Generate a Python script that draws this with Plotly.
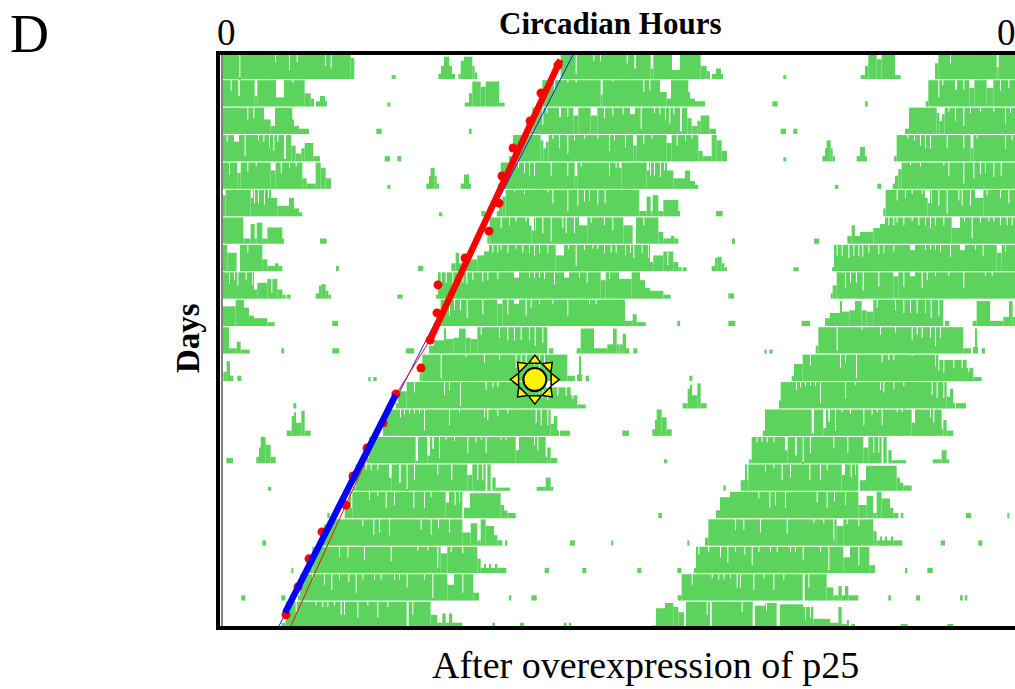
import numpy as np
import plotly.graph_objects as go

# Activity per day: bouts are (start bin, end bin, height); gaps are (bin, depth) or (bin, width, depth).
# One day spans bins 27..1215.
D00_BOUTS = [(27,410,1),(410,421,.8),(533,545,.15),(673,681,.2),(681,690,.5),(690,705,.85),(705,714,.5),(714,723,.2),(733,740,.2),(740,750,.7),(750,775,.85),(775,782,.5),(782,790,.25),(1040,1215,1)]
D00_GAPS = [(76,.95),(158,.1),(183,.35),(225,.65),(248,.35),(333,.5),(350,.6),(373,.1),(393,.1),(1085,.8),(1138,.3),(1158,.3),(1188,.05)]
D01_BOUTS = [(27,186,1),(186,210,.35),(210,272,1),(272,290,.5),(290,300,.3),(306,318,.2),(318,333,.4),(333,338,.2),(520,529,.15),(752,765,.15),(765,775,.5),(775,800,.95),(800,815,.75),(815,855,.95),(855,872,.15),(975,985,.6),(985,1215,1)]
D01_GAPS = [(50,.4),(73,5,.6),(122,8,.6),(235,.1),(1020,.4),(1060,.1),(1085,.1),(1160,6,.55),(1195,.05)]
D02_BOUTS = [(27,150,1),(150,170,.55),(170,183,.3),(183,235,1),(235,240,.55),(240,255,.3),(255,285,.2),(487,503,.2),(765,773,.2),(947,955,.2),(955,1215,1)]
D02_GAPS = [(100,.45),(118,.4),(985,.65),(997,.2),(1035,6,.35),(1060,.35),(1078,15,.3),(1130,20,.3),(1170,.4),(1195,.3)]
D03_BOUTS = [(27,232,1),(232,245,.6),(245,262,.3),(262,272,.5),(272,298,.7),(298,318,.2),(512,528,.2),(550,562,.2),(885,897,.2),(897,1215,1)]
D03_GAPS = [(38,.25),(60,15,.25),(92,.8),(132,.2),(148,.25),(165,.45),(178,.6),(190,.25),(210,6,.9),(980,8,.2),(988,8,.5),(996,8,.25),(1015,.15),(1035,.5),(1060,.7),(1080,.2),(1110,.15),(1150,.15),(1185,.6),(1200,.2)]
D04_BOUTS = [(27,265,1),(265,278,.4),(278,305,.2),(305,320,1),(320,335,.8),(335,351,.4),(520,529,.15),(637,645,.2),(645,650,.5),(650,662,.8),(662,668,.5),(668,675,.2),(740,750,.2),(750,765,.55),(765,770,.2),(852,860,.2),(860,1215,1)]
D04_GAPS = [(45,.45),(70,10,.4),(100,.35),(125,.15),(170,15,.3),(200,.4),(225,.2),(245,.15),(892,.15),(912,.2),(930,.4),(945,.5),(960,.5),(1010,.5),(1060,.5),(1082,8,.5),(1100,.15),(1185,.5),(1205,.2)]
D05_BOUTS = [(27,35,.8),(35,110,1),(110,118,.7),(118,170,1),(170,190,.7),(190,225,.4),(225,240,.7),(240,255,.3),(255,265,.15),(675,685,.15),(802,814,.2),(848,855,.2),(855,865,.5),(865,875,.75),(875,1215,1)]
D05_GAPS = [(120,.5),(132,.5),(150,.55),(162,.3),(900,.1),(930,.15),(1000,.1),(1015,.5),(1060,.8),(1090,.6),(1110,.45),(1125,.4),(1150,.55),(1172,.5)]
D06_BOUTS = [(27,88,1),(88,110,.2),(110,122,.75),(122,128,.2),(128,145,.8),(145,160,.2),(160,205,.62),(205,210,.2),(318,338,.2),(820,827,.3),(827,1215,1)]
D06_GAPS = [(860,.4),(885,.3),(905,.15),(935,.15),(945,8,.3),(953,7,.5),(962,.5),(985,.6),(1010,.9),(1045,.4),(1055,.6),(1080,.6),(1095,25,.3),(1130,.2),(1170,.3),(1195,.5)]
D07_BOUTS = [(27,40,1),(40,68,.7),(78,145,1),(145,160,.45),(160,183,.2),(183,193,.3),(193,205,.2),(366,375,.2),(612,628,.2),(712,725,.3),(725,735,.7),(735,750,.3),(750,790,.45),(790,810,.6),(810,825,.75),(825,1215,1)]
D07_GAPS = [(100,.3),(835,.3),(850,.3),(860,.2),(880,.3),(905,.15),(925,.3),(945,.3),(960,.4),(975,.3),(1000,.3),(1025,25,.4),(1062,.15),(1085,.8),(1110,.2),(1135,.15),(1150,.15),(1170,.3),(1190,.3),(1205,.3)]
D08_BOUTS = [(27,120,1),(120,130,.35),(130,160,.6),(160,190,.75),(190,205,.35),(205,215,.15),(218,230,.15),(305,315,.2),(315,322,.5),(322,335,.55),(335,343,.3),(343,351,.15),(550,566,.15),(667,672,.15),(672,1215,1)]
D08_GAPS = [(45,.4),(60,.3),(70,.5),(95,.3),(115,.5),(172,.7),(680,.4),(695,.4),(715,.5),(730,.4),(745,.4),(757,.45),(775,.3),(805,.35),(820,.3),(850,.25),(900,15,.2),(945,.2),(960,.2),(975,.2),(990,.25),(1020,.45),(1050,15,.2),(1095,.2),(1118,.4),(1160,15,.3),(1185,.25)]
D09_BOUTS = [(27,65,.75),(65,90,1),(90,105,.7),(105,120,.4),(120,160,.3),(160,182,.15),(355,372,.2),(662,668,.2),(668,680,.5),(680,1215,1)]
D09_GAPS = [(705,.6),(720,.4),(738,.4),(758,.7),(805,.55),(850,15,.15),(880,.55),(900,15,.15),(935,.6),(950,.3),(975,.15),(1015,.15),(1060,.6),(1125,.15),(1145,.15)]
D10_BOUTS = [(27,45,1),(45,68,.2),(68,80,.45),(80,107,.15),(202,210,.2),(355,376,.2),(575,600,.2),(645,660,.3),(660,690,.5),(690,695,.95),(695,718,.55),(718,735,.6),(735,755,.95),(755,770,.6),(770,790,.55),(790,1000,1),(1005,1018,.2),(1088,1100,.2),(1100,1140,.95),(1140,1150,.2),(1150,1180,.2),(1180,1197,.35),(1197,1208,.95),(1208,1215,.35)]
D10_GAPS = [(800,.3),(855,.4),(880,.5),(900,.5),(920,.5),(945,.5),(962,.7),(985,.6)]
D11_BOUTS = [(28,38,.35),(38,48,.75),(48,58,.2),(70,82,.2),(463,470,.15),(478,488,.15),(617,625,.3),(625,1060,1),(1060,1083,.2),(1090,1095,.25),(1095,1100,.95),(1100,1103,.25),(1115,1125,.2)]
D11_GAPS = [(680,.9),(755,.1),(810,.3),(855,.2),(905,.5),(920,.3),(935,.4),(960,.4),(975,.7),(990,.4)]
D12_BOUTS = [(238,247,.2),(545,552,.2),(552,578,.65),(578,985,1),(985,1070,.8),(1070,1090,.5),(1090,1115,.15)]
D12_GAPS = [(600,.4),(690,.5),(705,.3),(738,.9),(815,.3),(835,.2),(850,.2),(905,.05),(975,.45),(985,.5),(1000,.6),(1030,.4),(1055,.4),(1075,.3)]
D13_BOUTS = [(218,233,.2),(233,240,.75),(240,246,.9),(246,262,.5),(262,272,.95),(272,290,.2),(508,512,.3),(512,1010,1),(1010,1020,.45),(1020,1030,.75),(1030,1033,.2),(1038,1068,.2)]
D13_GAPS = [(558,.3),(570,.2),(585,.15),(600,.15),(615,.15),(630,.8),(705,.6),(735,.1),(810,.3),(820,.4),(850,.25),(880,.15),(965,.5),(980,.6),(1000,.6)]
D14_BOUTS = [(37,57,.2),(127,135,.25),(135,140,.6),(140,155,1),(155,170,.7),(170,185,.25),(458,465,.2),(465,995,1),(995,1000,.25),(1000,1010,.6),(1010,1030,.2)]
D14_GAPS = [(605,7,.9),(640,10,.7),(655,5,.45),(675,.8),(695,.1),(720,.15),(760,.6),(785,.2),(800,.1),(815,.6),(860,.1),(875,.1),(905,10,.5),(960,.3),(970,.5)]
D15_BOUTS = [(162,172,.15),(417,425,.15),(425,815,1),(820,830,1),(835,845,.5),(845,888,.12),(968,995,.15),(995,1010,.5),(1010,1018,.15)]
D15_GAPS = [(440,.2),(455,.2),(470,.2),(490,.2),(525,8,.5),(555,5,.7),(578,.95),(600,.6),(670,.4),(712,.6),(760,15,.4),(790,.6),(805,.6)]
D16_BOUTS = [(340,347,.2),(392,405,.4),(405,745,1),(750,768,.4),(768,860,.95),(860,870,.5),(870,880,.3),(880,905,.2)]
D16_GAPS = [(410,5,.6),(465,.3),(490,.15),(515,.6),(540,.5),(598,.6),(630,.6),(650,.2),(695,10,.4),(722,.5),(735,.4)]
D17_BOUTS = [(145,156,.2),(318,330,.3),(330,360,.8),(360,745,1),(745,770,.5),(770,790,.85),(790,800,.2),(800,815,1),(815,840,.75),(840,850,.4),(850,865,.2),(873,880,.2),(1068,1083,.2),(1192,1198,.2)]
D17_GAPS = [(445,.25),(478,.6),(495,.5),(525,.6),(620,.4),(650,.6),(672,.35),(705,.5)]
D18_BOUTS = [(5,10,.2),(232,238,.2),(285,295,.3),(295,790,1),(790,800,.55),(800,877,.2),(810,815,.35),(825,830,.35),(845,850,.35),(992,1005,.2),(1105,1117,.2)]
D18_GAPS = [(375,.4),(400,.4),(450,.5),(530,.55),(610,.15),(640,.15),(670,.8),(680,20,.25),(710,.2),(745,.25)]
D19_BOUTS = [(82,94,.2),(202,214,.2),(252,260,.2),(260,778,1),(778,795,.3),(885,892,.2),(952,968,.2)]
D19_GAPS = [(265,.3),(295,.2),(330,.4),(352,.6),(375,.2),(403,.3),(425,.7),(445,.2),(480,.2),(500,.2),(540,.2),(555,.2),(578,.5),(630,.2),(655,.9),(700,20,.4),(745,.7)]
D20_BOUTS = [(203,215,.2),(215,578,1),(584,650,1),(650,670,.5),(670,685,.2),(685,695,.55),(695,705,.2),(705,715,.55),(715,745,.2),(835,843,.2),(918,930,.2),(1050,1058,.2),(1065,1072,.2)]
D20_GAPS = [(245,.4),(305,.15),(325,.2),(340,.2),(360,.15),(380,.5),(390,.5),(430,.6),(460,.15),(490,.6),(520,.2),(595,.5)]
D21_BOUTS = [(128,138,.1),(138,165,.75),(165,190,.95),(190,205,.8),(205,222,.6),(228,300,1),(305,428,1),(435,465,.85),(465,500,.95),(510,580,.9),(580,610,.8),(610,660,.35),(660,685,.2),(685,695,.8),(695,710,.15),(710,717,.3),(723,735,.15),(872,893,.15),(1012,1030,.15)]
D21_GAPS = [(290,.5),(395,.4),(468,.3),(585,.6),(600,.5)]

DAY_BOUTS = [D00_BOUTS,D01_BOUTS,D02_BOUTS,D03_BOUTS,D04_BOUTS,D05_BOUTS,D06_BOUTS,D07_BOUTS,D08_BOUTS,D09_BOUTS,D10_BOUTS,D11_BOUTS,D12_BOUTS,D13_BOUTS,D14_BOUTS,D15_BOUTS,D16_BOUTS,D17_BOUTS,D18_BOUTS,D19_BOUTS,D20_BOUTS,D21_BOUTS]
DAY_GAPS = [D00_GAPS,D01_GAPS,D02_GAPS,D03_GAPS,D04_GAPS,D05_GAPS,D06_GAPS,D07_GAPS,D08_GAPS,D09_GAPS,D10_GAPS,D11_GAPS,D12_GAPS,D13_GAPS,D14_GAPS,D15_GAPS,D16_GAPS,D17_GAPS,D18_GAPS,D19_GAPS,D20_GAPS,D21_GAPS]

# Fitted onset lines and daily onset points: circadian hour and day row.
ONSET_HOURS = [20.30,19.27,18.61,17.58,16.91,16.73,16.12,14.67,13.03,12.97,12.55,12.0,10.48,9.70,8.73,7.88,7.45,6.0,5.21,4.55,3.82]
ONSET_DAYS = [0.49,1.51,2.53,3.51,4.53,5.52,6.54,7.52,8.5,9.52,10.51,11.53,12.47,13.53,14.44,15.46,16.52,17.5,18.48,19.5,20.52]
RED_THICK_H = [20.45,17.2,14.8,12.55]
RED_THICK_D = [0.3,4.5,7.5,10.5]
RED_THIN_H = [12.55,10.48,4.06]
RED_THIN_D = [10.5,12.5,21.0]
BLUE_THIN_H = [21.27,3.33]
BLUE_THIN_D = [0.05,21.0]
BLUE_THICK_H = [10.47,3.76]
BLUE_THICK_D = [12.5,20.45]
SUN_HOUR, SUN_DAY = 18.9, 11.95

GREEN = "#5cd35c"
BIN0, BINS = 27, 1188
PX_L, PX_T, PX_R, PX_B = 218, 53, 1015, 628
H0 = -5 * 24 / 396

xs, ws, bases, hs = [], [], [], []
for day in range(22):
    prof = np.zeros(BINS)
    for a, b, h in DAY_BOUTS[day]:
        a2, b2 = max(a, BIN0) - BIN0, min(b, BIN0 + BINS) - BIN0
        if b2 > a2:
            prof[a2:b2] = h
    for g in DAY_GAPS[day]:
        p, w, d = (g[0], 3, g[1]) if len(g) == 2 else g
        a2 = max(p - BIN0, 0)
        prof[a2:p - BIN0 + w] *= (1 - d)
    edges = np.flatnonzero(np.diff(prof)) + 1
    starts = np.r_[0, edges]
    ends = np.r_[edges, BINS]
    for a, b in zip(starts, ends):
        h = prof[a]
        if h <= 0:
            continue
        t0, t1 = a / BINS * 24, b / BINS * 24
        for row, off in ((day, 0), (day - 1, 24)):
            if 0 <= row <= 20:
                xs.append((t0 + t1) / 2 + off)
                ws.append(t1 - t0)
                bases.append(row + 1)
                hs.append(-h * 0.96)

fig = go.Figure()
fig.add_trace(go.Bar(x=xs, y=hs, base=bases, width=ws, marker=dict(color=GREEN, line=dict(width=0)), hoverinfo="skip"))
def line(x, y, c, w):
    fig.add_trace(go.Scatter(x=x, y=y, mode="lines", line=dict(color=c, width=w), hoverinfo="skip"))
line(BLUE_THIN_H, BLUE_THIN_D, "#1a1aee", 1)
line(RED_THIN_H, RED_THIN_D, "#ee1111", 1)
line(RED_THICK_H, RED_THICK_D, "#ff0000", 6.5)
fig.add_trace(go.Scatter(x=ONSET_HOURS, y=ONSET_DAYS, mode="markers", marker=dict(color="#ff0000", size=9), hoverinfo="skip"))
line(BLUE_THICK_H, BLUE_THICK_D, "#0000ff", 6.5)

# sun glyph
hpp = 24 / 396
dpp = 1 / 27.45
angles = list(range(0, 360, 45))
rx = [SUN_HOUR + 19 * np.sin(np.radians(a)) * hpp for a in angles]
ry = [SUN_DAY - 19 * np.cos(np.radians(a)) * dpp for a in angles]
fig.add_trace(go.Scatter(x=rx, y=ry, mode="markers", marker=dict(symbol="triangle-up", size=11, angle=angles, color="#fff200", line=dict(color="black", width=1.5)), hoverinfo="skip"))
fig.add_trace(go.Scatter(x=[SUN_HOUR], y=[SUN_DAY], mode="markers", marker=dict(size=23, color="#fff200", line=dict(color="black", width=2)), hoverinfo="skip"))

W = PX_R - PX_L
H = PX_B - PX_T
shapes = [
    dict(type="line", xref="paper", yref="paper", x0=0, x1=1, y0=1, y1=1, line=dict(color="black", width=4)),
    dict(type="line", xref="paper", yref="paper", x0=0, x1=1, y0=0, y1=0, line=dict(color="black", width=4)),
    dict(type="line", xref="paper", yref="paper", x0=0, x1=0, y0=-2/H, y1=1+2/H, line=dict(color="black", width=4)),
    dict(type="line", xref="paper", yref="paper", x0=4/W, x1=4/W, y0=0, y1=1, line=dict(color="black", width=1)),
]
FONT = "Liberation Serif"
def label(px, py, text, size, bold=False, angle=0):
    fig.add_annotation(xref="paper", yref="paper", x=(px - PX_L) / W, y=1 - (py - PX_T) / H, text=f"<b>{text}</b>" if bold else text,
                       showarrow=False, textangle=angle, font=dict(family=FONT, size=size, color="black"), xanchor="center", yanchor="middle")
label(29, 34, "D", 54)
label(226, 33, "0", 37)
label(1006, 33, "0", 37)
label(610, 24, "Circadian Hours", 31, bold=True)
label(188, 338, "Days", 33, bold=True, angle=-90)
label(645, 665, "After overexpression of p25", 38)

fig.update_layout(width=1015, height=689, autosize=False, showlegend=False, barmode="overlay",
                  margin=dict(l=PX_L, r=0, t=PX_T, b=689 - PX_B), paper_bgcolor="white", plot_bgcolor="white", shapes=shapes)
fig.update_xaxes(range=[H0, 48], visible=False)
fig.update_yaxes(range=[21, 0.05], visible=False)
fig.write_html("out.html", default_width="1015px", default_height="689px", config={"displayModeBar": False},
               post_script="document.body.style.margin='0';document.documentElement.style.overflow='hidden';")
